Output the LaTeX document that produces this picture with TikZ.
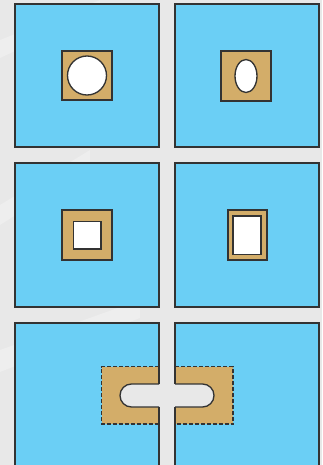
\documentclass[tikz,border=0pt]{standalone}
\usepackage{xcolor}
\usepackage{tikz}
\definecolor{bgGray}{HTML}{E8E8E8}
\definecolor{bandWhite}{HTML}{F2F2F2}
\definecolor{panelBlue}{HTML}{6BCFF5}
\definecolor{insertTan}{HTML}{D3AD69}
\definecolor{edgeDark}{HTML}{333333}
\tikzset{
  panel/.style={fill=panelBlue, draw=edgeDark, line width=1pt},
  panelfill/.style={fill=panelBlue},
  panelline/.style={draw=edgeDark, line width=1pt},
  insert/.style={fill=insertTan, draw=edgeDark, line width=1pt},
  hole/.style={fill=white, draw=edgeDark, line width=1pt},
  cutinsert/.style={fill=insertTan, draw=edgeDark, line width=0.8pt,
    dash pattern=on 3pt off 1.5pt},
  slot/.style={fill=bgGray, rounded corners=8.6pt},
  slotline/.style={draw=edgeDark, line width=1pt, rounded corners=8.6pt}
}

\begin{document}
\begin{tikzpicture}[x=0.75pt, y=-0.75pt]
  \clip (0,0) rectangle (322,465);
  \fill[bgGray] (0,0) rectangle (322,465);
  % faint bands in the backdrop
  \fill[bandWhite, opacity=0.6] (0,40) -- (100,0) -- (100,12) -- (0,58) -- cycle;
  \fill[bandWhite, opacity=0.6] (0,205) -- (90,150) -- (90,168) -- (0,225) -- cycle;
  \fill[bandWhite, opacity=0.6] (0,350) -- (140,300) -- (140,318) -- (0,372) -- cycle;

  % top row: round and oval holes
  \draw[panel] (15,4) rectangle (159,147);
  \draw[panel] (175,4) rectangle (319,147);
  \draw[insert] (62,51) rectangle (112,100);
  \draw[hole] (87,75.5) circle (19.5);
  \draw[insert] (221,51) rectangle (271,101);
  \draw[hole] (246,76) ellipse (11 and 16.5);

  % middle row: square and oblong holes
  \draw[panel] (15,163) rectangle (159,307);
  \draw[panel] (175,163) rectangle (319,307);
  \draw[insert] (62,210) rectangle (112,260);
  \draw[hole] (73.5,221.5) rectangle (101,249);
  \draw[insert] (228,210) rectangle (267,260);
  \draw[hole] (233,216) rectangle (261,254.5);

  % bottom row: split insert with slot
  \fill[panelfill] (15,323) rectangle (159,470);
  \fill[panelfill] (175,323) rectangle (319,470);
  \path[cutinsert] (159,366.5) -- (101.5,366.5) -- (101.5,424) -- (159,424);
  \path[cutinsert] (175,366.5) -- (233,366.5) -- (233,424) -- (175,424);
  \fill[slot] (120,384) rectangle (214,407);
  \fill[bgGray] (158,384) rectangle (176,407);
  \path[slotline] (159,384) -- (120,384) -- (120,407) -- (159,407);
  \path[slotline] (175,384) -- (214,384) -- (214,407) -- (175,407);
  \draw[panelline] (159,384) -- (159,323) -- (15,323) -- (15,470) -- (159,470) -- (159,407);
  \draw[panelline] (175,384) -- (175,323) -- (319,323) -- (319,470) -- (175,470) -- (175,407);
\end{tikzpicture}
\end{document}
